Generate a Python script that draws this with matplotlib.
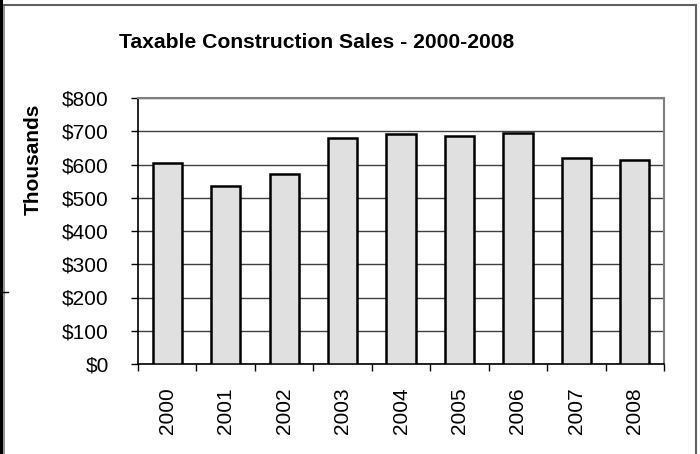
import numpy as np
import matplotlib
matplotlib.use("Agg")
import matplotlib.pyplot as plt
from matplotlib.lines import Line2D
from matplotlib.ticker import FuncFormatter, MultipleLocator

plt.rcParams['font.family'] = ['Liberation Sans', 'DejaVu Sans']

years = ["2000", "2001", "2002", "2003", "2004", "2005", "2006", "2007", "2008"]
sales = [604, 535, 571, 680, 692, 686, 695, 620, 614]  # thousands of dollars

W, H = 700, 454
fig = plt.figure(figsize=(W / 100, H / 100), dpi=100)
ax = fig.add_axes([138 / W, 1 - 364 / H, (664 - 138) / W, (364 - 98) / H])

x = np.arange(len(years))
ax.bar(x, sales, width=0.5, color="#e0e0e0", edgecolor="black", linewidth=1.8, zorder=3)

ax.set_xlim(-0.5, len(years) - 0.5)
ax.set_ylim(0, 800)
ax.yaxis.set_major_locator(MultipleLocator(100))
ax.yaxis.set_major_formatter(FuncFormatter(lambda v, p: "${:,.0f}".format(v)))
ax.grid(axis="y", color="#404040", linewidth=1.0, zorder=0)

# labels at bar centres, tick marks between categories
ax.set_xticks(x)
ax.set_xticklabels(years, rotation=90)
ax.set_xticks(np.arange(len(years) + 1) - 0.5, minor=True)
ax.tick_params(axis="x", which="major", length=0, pad=17, labelsize=15)
ax.tick_params(axis="x", which="minor", length=5, width=1, direction="out", color="black")
ax.tick_params(axis="y", length=5, width=1, direction="out", pad=16, labelsize=15)

for side in ["top", "right"]:
    ax.spines[side].set_color("#808080")
    ax.spines[side].set_linewidth(1.5)
for side in ["left", "bottom"]:
    ax.spines[side].set_color("black")
    ax.spines[side].set_linewidth(1.2)

fig.text(316.5 / W, 1 - 48 / H, "Taxable Construction Sales - 2000-2008",
         ha="center", va="baseline", fontsize=15.2, fontweight="bold")
fig.text(33 / W, 1 - 159 / H, "Thousands", rotation=90,
         ha="center", va="center", fontsize=15, fontweight="bold")

# chart frame like the original
fig.add_artist(Line2D([1 / W, 1 / W], [0, 1], transform=fig.transFigure, color="black", linewidth=2.2))
fig.add_artist(Line2D([3.5 / W, 3.5 / W], [0, 1 - 4.5 / H], transform=fig.transFigure, color="#808080", linewidth=1.2))
fig.add_artist(Line2D([3.5 / W, 696 / W], [1 - 4.5 / H, 1 - 4.5 / H], transform=fig.transFigure, color="#606060", linewidth=1.5))
fig.add_artist(Line2D([696 / W, 696 / W], [0, 1 - 4.5 / H], transform=fig.transFigure, color="#606060", linewidth=1.5))
fig.add_artist(Line2D([0, 8 / W], [1 - 292 / H, 1 - 292 / H], transform=fig.transFigure, color="black", linewidth=1.0))

fig.savefig("out.png", dpi=100)
